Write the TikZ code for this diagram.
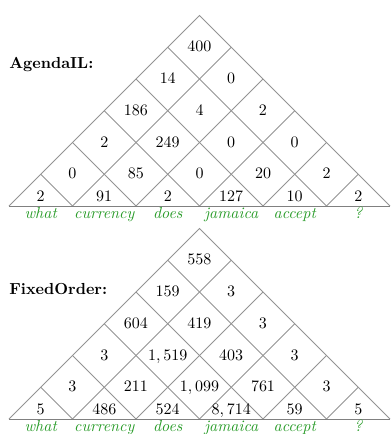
\documentclass[tikz,border=0pt]{standalone}
\usepackage{xcolor}
\definecolor{wordgreen}{RGB}{40,155,40}

% number inside a diamond cell: prefix, base y, row, column, value
\newcommand\cellnum[5]{%
  \node[cell] (#1-#3-#4) at ({9+31.75*(#3+1)+63.5*#4},{#2-31.75*#3+4.5}) {$#5$};}
% number inside a bottom half-cell: prefix, base y, column, value
\newcommand\basenum[4]{%
  \node[cell] (#1-0-#3) at ({40.75+63.5*#3},{#2-4.5}) {$#4$};}
% word under the base line: prefix, base y, column, text
\newcommand\wordat[4]{%
  \node[word] (#1-w-#3) at ({40.75+63.5*#3},{#2+12}) {#4};}
% triangular grid resting on the base line at y = #1
\newcommand\chartgrid[1]{%
  \foreach \k in {1,...,5} {
    \pgfmathsetmacro\xk{9+63.5*\k}
    \draw[gridline] (\xk,#1) -- ({(\xk+9)/2},{#1-(\xk-9)/2});
    \draw[gridline] (\xk,#1) -- ({(\xk+390)/2},{#1-(390-\xk)/2});
  }
  \draw[gridline] (9,#1) -- (199.5,{#1-190.5}) -- (390,#1);
  \draw[baseline rule] (9,#1) -- (390,#1);
}

\begin{document}
\begin{tikzpicture}[x=0.625pt,y=-0.625pt,
  gridline/.style={draw=gray!85, line width=0.45pt},
  baseline rule/.style={draw=gray, line width=0.5pt},
  cell/.style={inner sep=0pt, anchor=base},
  word/.style={text=wordgreen, font=\itshape, inner sep=0pt, anchor=base},
  heading/.style={font=\bfseries, anchor=base west, inner sep=0pt}]
\useasboundingbox (0,0) rectangle (391,434);

% ---------------- AgendaIL ----------------
\chartgrid{206}
\node[heading] (agenda) at (9,68) {AgendaIL:};
\cellnum{a}{206}{5}{0}{400}
\cellnum{a}{206}{4}{0}{14}
\cellnum{a}{206}{4}{1}{0}
\cellnum{a}{206}{3}{0}{186}
\cellnum{a}{206}{3}{1}{4}
\cellnum{a}{206}{3}{2}{2}
\cellnum{a}{206}{2}{0}{2}
\cellnum{a}{206}{2}{1}{249}
\cellnum{a}{206}{2}{2}{0}
\cellnum{a}{206}{2}{3}{0}
\cellnum{a}{206}{1}{0}{0}
\cellnum{a}{206}{1}{1}{85}
\cellnum{a}{206}{1}{2}{0}
\cellnum{a}{206}{1}{3}{20}
\cellnum{a}{206}{1}{4}{2}
\basenum{a}{206}{0}{2}
\basenum{a}{206}{1}{91}
\basenum{a}{206}{2}{2}
\basenum{a}{206}{3}{127}
\basenum{a}{206}{4}{10}
\basenum{a}{206}{5}{2}
\wordat{a}{206}{0}{what}
\wordat{a}{206}{1}{currency}
\wordat{a}{206}{2}{does}
\wordat{a}{206}{3}{jamaica}
\wordat{a}{206}{4}{accept}
\wordat{a}{206}{5}{?}

% ---------------- FixedOrder ----------------
\chartgrid{419}
\node[heading] (fixed) at (9,294) {FixedOrder:};
\cellnum{f}{419}{5}{0}{558}
\cellnum{f}{419}{4}{0}{159}
\cellnum{f}{419}{4}{1}{3}
\cellnum{f}{419}{3}{0}{604}
\cellnum{f}{419}{3}{1}{419}
\cellnum{f}{419}{3}{2}{3}
\cellnum{f}{419}{2}{0}{3}
\cellnum{f}{419}{2}{1}{1,519}
\cellnum{f}{419}{2}{2}{403}
\cellnum{f}{419}{2}{3}{3}
\cellnum{f}{419}{1}{0}{3}
\cellnum{f}{419}{1}{1}{211}
\cellnum{f}{419}{1}{2}{1,099}
\cellnum{f}{419}{1}{3}{761}
\cellnum{f}{419}{1}{4}{3}
\basenum{f}{419}{0}{5}
\basenum{f}{419}{1}{486}
\basenum{f}{419}{2}{524}
\basenum{f}{419}{3}{8,714}
\basenum{f}{419}{4}{59}
\basenum{f}{419}{5}{5}
\wordat{f}{419}{0}{what}
\wordat{f}{419}{1}{currency}
\wordat{f}{419}{2}{does}
\wordat{f}{419}{3}{jamaica}
\wordat{f}{419}{4}{accept}
\wordat{f}{419}{5}{?}
\end{tikzpicture}
\end{document}
